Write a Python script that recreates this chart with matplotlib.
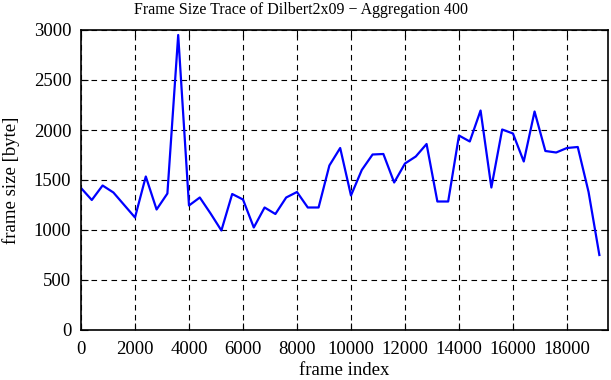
import matplotlib
matplotlib.use("Agg")
import matplotlib.pyplot as plt
import numpy as np

# frame index every 400 frames
frame_index = np.arange(0, 19201, 400)
frame_size = [1420, 1300, 1445, 1375, 1250, 1125, 1535, 1205, 1365, 2950,
              1245, 1325, 1165, 995, 1360, 1305, 1025, 1225, 1160, 1325,
              1380, 1225, 1225, 1645, 1820, 1345, 1600, 1755, 1760, 1475,
              1665, 1735, 1860, 1285, 1285, 1945, 1885, 2195, 1425, 2005,
              1965, 1685, 2185, 1790, 1775, 1820, 1830, 1380, 750]

x_ticks = list(range(0, 18001, 2000))
y_ticks = list(range(0, 3001, 500))

plt.rcParams['font.family'] = ['Liberation Serif', 'DejaVu Serif']

fig = plt.figure(figsize=(6.11, 3.8), dpi=100)
ax = fig.add_axes([81/611, 50/380, (608-81)/611, 300/380])

ax.plot(frame_index, frame_size, color='#0000ff', lw=1.6)

ax.set_xlim(0, 19520)
ax.set_ylim(0, 3000)
ax.set_xticks(x_ticks)
ax.set_yticks(y_ticks)
ax.grid(True, color='black', linestyle=(0, (5, 4)), lw=0.8)
ax.tick_params(direction='in', top=True, right=True, length=5, labelsize=13.5)
ax.tick_params(axis='x', pad=8)
ax.tick_params(axis='y', pad=7)
for s in ax.spines.values():
    s.set_linewidth(1.2)

ax.set_xlabel('frame index', fontsize=13.5, labelpad=3)
ax.set_ylabel('frame size [byte]', fontsize=13.5, labelpad=10)
# title is centred on the canvas, not on the plot area
fig.text(301/611, 1 - 10/380, 'Frame Size Trace of Dilbert2x09 \u2212 Aggregation 400',
         fontsize=11.5, ha='center', va='center')

fig.savefig('out.png', dpi=100)
